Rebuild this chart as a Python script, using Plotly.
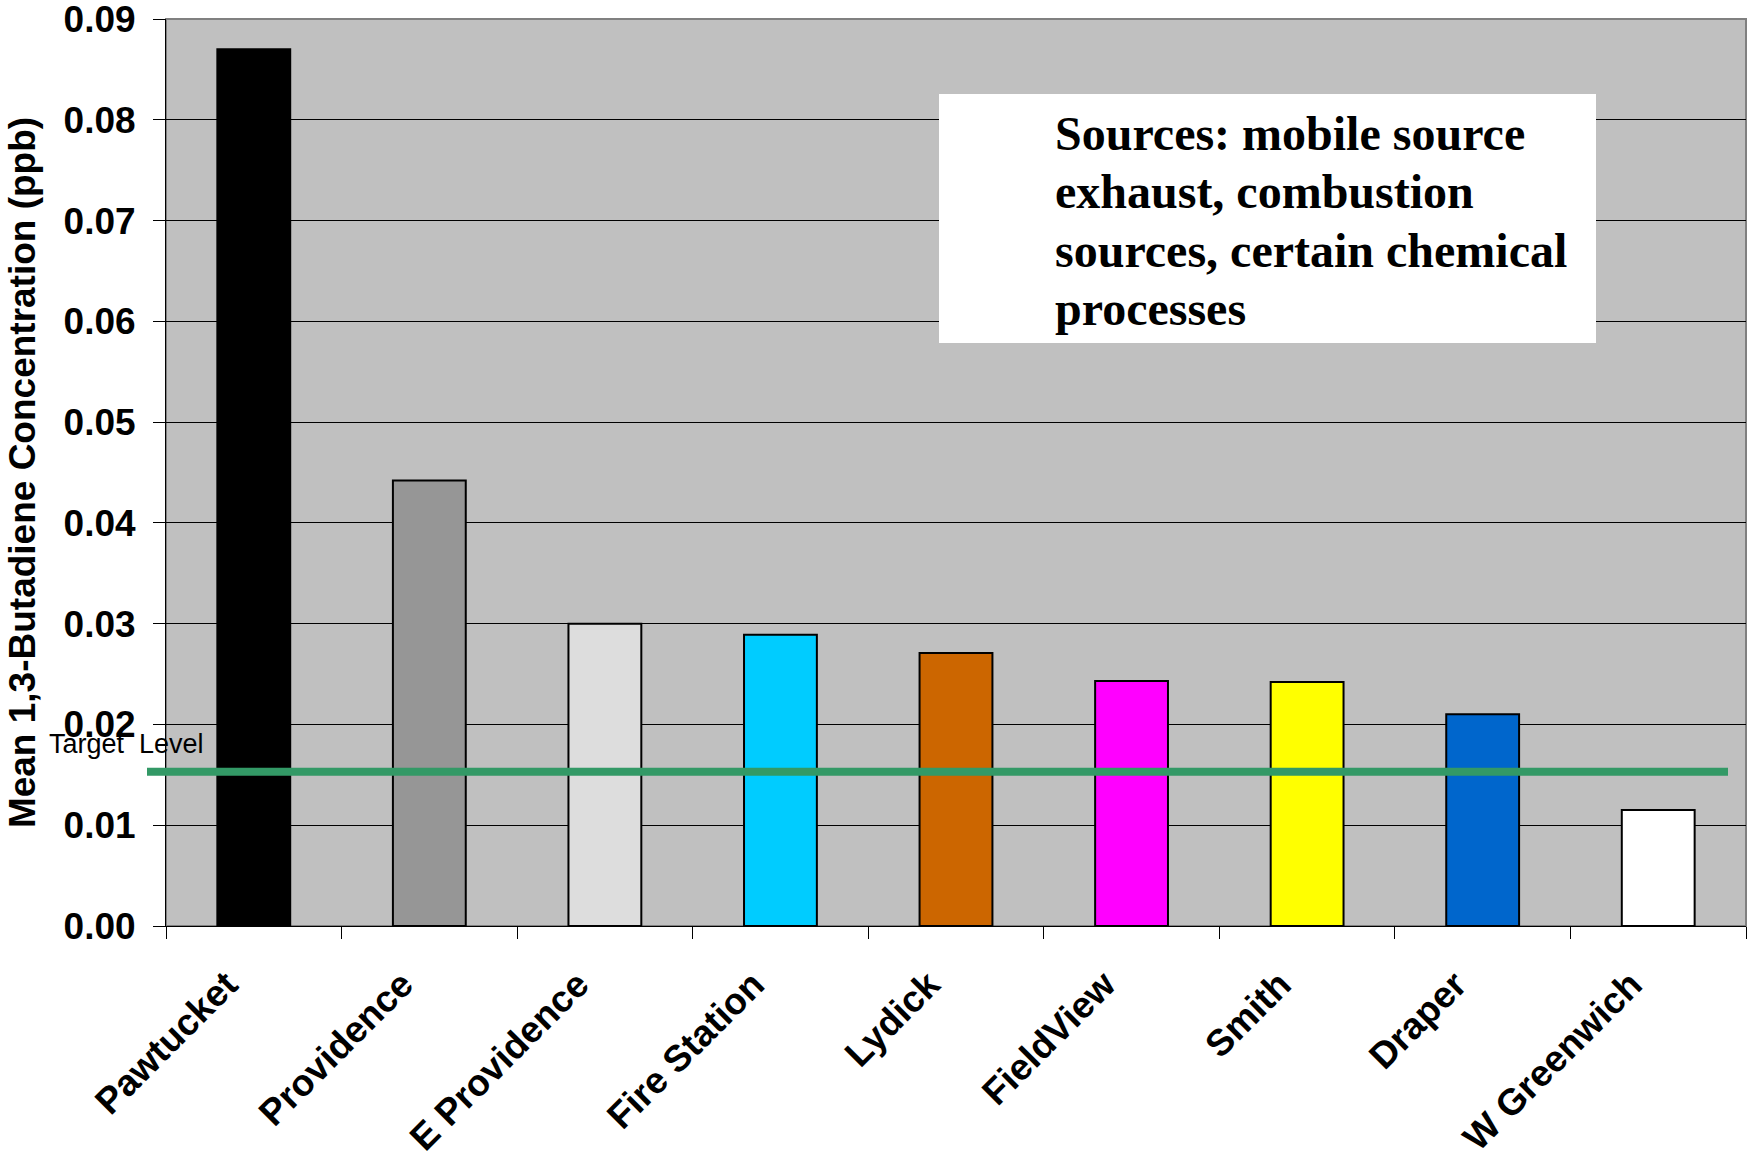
import plotly.graph_objects as go

# Monitoring sites and mean 1,3-butadiene concentrations (ppb)
sites = ["Pawtucket", "Providence", "E Providence", "Fire Station", "Lydick",
         "FieldView", "Smith", "Draper", "W Greenwich"]
concentrations = [0.0870, 0.0442, 0.0300, 0.0289, 0.0271, 0.0243, 0.0242, 0.0210, 0.0115]
bar_colors = ["#000000", "#969696", "#DDDDDD", "#00CCFF", "#CC6600",
              "#FF00FF", "#FFFF00", "#0066CC", "#FFFFFF"]
target_level = 0.0153
y_ticks = [0.00, 0.01, 0.02, 0.03, 0.04, 0.05, 0.06, 0.07, 0.08, 0.09]
note_lines = ["Sources: mobile source", "exhaust, combustion",
              "sources, certain chemical", "processes"]

W, H = 1761, 1153
ML, MR, MT, MB = 166, 15, 19, 227
PW, PH = W - ML - MR, H - MT - MB


def px_x(x):
    """Pixel column -> paper x."""
    return (x - ML) / PW


def px_y(y):
    """Pixel row -> paper y."""
    return (H - MB - y) / PH


sans_bold = dict(family="Liberation Sans, Arial, sans-serif", size=37, color="black", weight="bold")

fig = go.Figure()
fig.add_trace(go.Bar(
    x=sites, y=concentrations, width=0.415,
    marker=dict(color=bar_colors, line=dict(color="black", width=2)),
    showlegend=False, hoverinfo="x+y",
))

shapes = [
    # plot-area frame
    dict(type="rect", xref="paper", yref="paper", x0=0, x1=1, y0=0, y1=1,
         line=dict(color="#808080", width=2), fillcolor="rgba(0,0,0,0)", layer="below"),
    # target level line
    dict(type="line", xref="paper", yref="y", x0=px_x(147), x1=px_x(1728),
         y0=target_level, y1=target_level, line=dict(color="#339966", width=8), layer="above"),
    # white note box
    dict(type="rect", xref="paper", yref="paper", x0=px_x(939), x1=px_x(1596),
         y0=px_y(343), y1=px_y(94), line=dict(width=0), fillcolor="white", layer="above"),
]

annotations = [
    dict(text="Target\u00a0 Level", xref="paper", yref="y", x=px_x(47), y=target_level,
         xanchor="left", yanchor="middle", yshift=28, showarrow=False,
         font=dict(family="Liberation Sans, Arial, sans-serif", size=27, color="black")),
]
line_centers = [133.3, 191.7, 250.1, 308.5]
for txt, yc in zip(note_lines, line_centers):
    annotations.append(dict(
        text=txt, xref="paper", yref="paper", x=px_x(1052.6), y=px_y(yc),
        xanchor="left", yanchor="middle", showarrow=False,
        font=dict(family="Liberation Serif, Times New Roman, serif", size=48,
                  color="black", weight="bold"),
    ))

fig.update_layout(
    width=W, height=H,
    margin=dict(l=ML, r=MR, t=MT, b=MB, pad=0, autoexpand=False),
    paper_bgcolor="white", plot_bgcolor="#C0C0C0",
    shapes=shapes, annotations=annotations,
    bargap=0.585,
)
fig.update_xaxes(
    type="category", range=[-0.5, len(sites) - 0.5], automargin=False,
    showline=True, linecolor="black", linewidth=1,
    ticks="outside", ticklen=12, tickcolor="black", tickwidth=1, tickson="boundaries",
    tickangle=-45, tickfont=sans_bold, showgrid=False,
    ticklabelstandoff=21, ticklabelshift=-27, ticklabeloverflow="allow",
)
fig.update_yaxes(
    range=[0, 0.0900001], tickvals=y_ticks, tickformat=".2f", automargin=False,
    showline=True, linecolor="black", linewidth=1,
    ticks="outside", ticklen=12, tickcolor="black", tickwidth=1,
    tickfont=sans_bold, ticklabelstandoff=10, ticklabeloverflow="allow",
    showgrid=True, gridcolor="black", gridwidth=1, zeroline=False,
    title=dict(text="Mean 1,3-Butadiene Concentration (ppb)", standoff=16,
               font=dict(family="Liberation Sans, Arial, sans-serif", size=37,
                         color="black", weight="bold")),
)

fig.write_html("out.html")
